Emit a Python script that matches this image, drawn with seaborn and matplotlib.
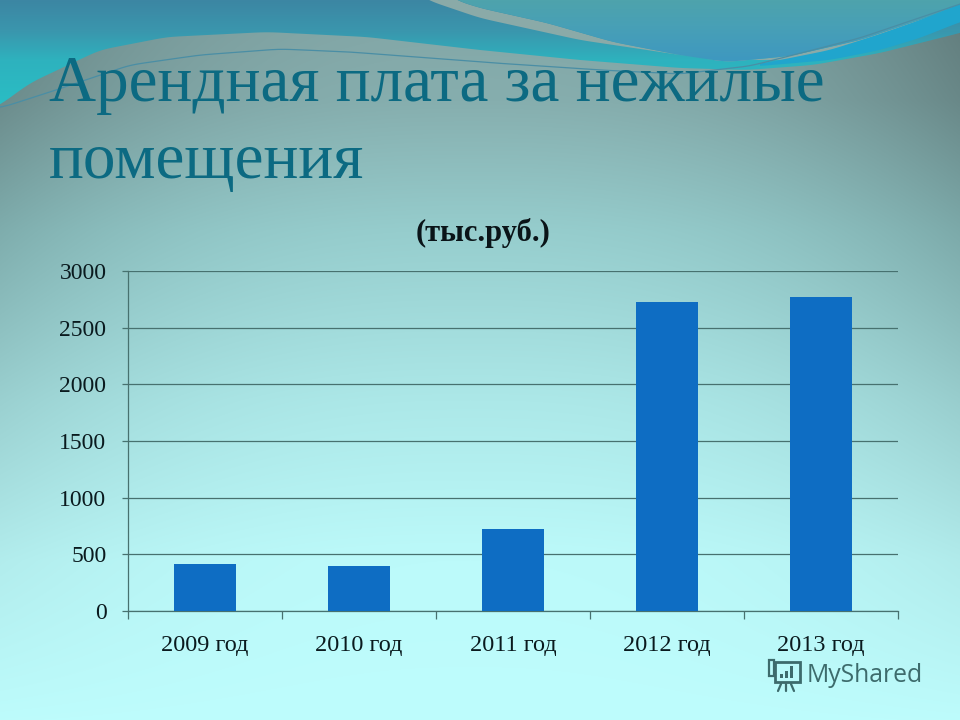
import numpy as np
import pandas as pd
import matplotlib
matplotlib.use('Agg')
import matplotlib.pyplot as plt
from matplotlib.patches import Rectangle, Polygon
import seaborn as sns

years = ['2009 год', '2010 год', '2011 год', '2012 год', '2013 год']
rent = [415, 397, 723, 2726, 2770]
y_ticks = [0, 500, 1000, 1500, 2000, 2500, 3000]

W, H = 960, 720

sns.set_theme(style='white')
plt.rcParams['font.family'] = ['Liberation Serif', 'DejaVu Serif']

fig = plt.figure(figsize=(9.6, 7.2), dpi=100)

bg = fig.add_axes([0, 0, 1, 1], zorder=0)
bg.set_xlim(0, W)
bg.set_ylim(H, 0)
bg.axis('off')

yy, xx = np.mgrid[0:H, 0:W]


def vgrad(stops_y, stops_rgb):
    c = np.array(stops_rgb) / 255
    return np.dstack([np.interp(yy, stops_y, c[:, i]) for i in range(3)])


# background: vertical gradient, darker towards the upper corners
img = vgrad([0, 100, 230, 400, 560, 720],
            [[130, 165, 165], [134, 174, 174], [150, 205, 205],
             [172, 232, 232], [188, 250, 250], [190, 253, 253]])
side = np.abs(xx - 470) / 490
fade = 1 - 0.24 * side ** 2.5 * np.clip(1.05 - yy / 700, 0, 1)
img = np.clip(img * fade[..., None], 0, 1)
bg.imshow(img, extent=[0, W, H, 0], aspect='auto', zorder=0)


def curve(px, py):
    # smooth a rough wave outline
    x = np.arange(-60, W + 61)
    y = np.interp(x, px, py)
    k = np.hanning(41)
    k = k / k.sum()
    y = np.convolve(np.pad(y, 20, mode='edge'), k, mode='valid')
    return x, y


def clipped_fill(x, upper, lower, grad, z):
    # gradient image cut to the area between two curves
    im = bg.imshow(grad, extent=[0, W, H, 0], aspect='auto', zorder=z)
    verts = np.r_[np.c_[x, upper], np.c_[x[::-1], lower[::-1]]]
    im.set_clip_path(Polygon(verts, closed=True, transform=bg.transData))


# teal sweep along the top
x, edge = curve([-60, 0, 30, 100, 167, 267, 367, 480, 580, 680, 747, 813, 880, 960, 1020],
                [135, 105, 83, 50, 37, 32, 37, 50, 60, 68, 70, 65, 53, 33, 15])
teal = vgrad([0, 30, 60, 100], [[60, 134, 163], [58, 150, 173], [46, 178, 190], [42, 188, 196]])
clipped_fill(x, np.full_like(edge, -5.0), edge, teal, 1)

# grey strip and the blue lens above it
x, strip_low = curve([400, 427, 480, 580, 647, 713, 790, 860, 960, 1020],
                     [-20, 0, 18, 40, 50, 60, 60, 44, 10, -15])
x, strip_up = curve([430, 455, 480, 547, 613, 680, 727, 790, 860, 960, 1020],
                    [-20, 0, 8, 23, 42, 55, 62, 56, 40, 6, -15])
clipped_fill(x, strip_up, strip_low, np.full((H, W, 3), np.array([138, 170, 168]) / 255), 2)
lens = vgrad([0, 25, 60], [[78, 163, 172], [72, 160, 182], [62, 152, 192]])
clipped_fill(x, np.full_like(strip_up, -5.0), strip_up, lens, 3)

# brighter blue streak on the right
x, streak_up = curve([760, 830, 880, 920, 960, 1020], [64, 50, 34, 20, 4, -15])
x, streak_low = curve([760, 830, 880, 920, 960, 1020], [66, 60, 50, 38, 22, 5])
mask = (x >= 760)
clipped_fill(x[mask], streak_up[mask], streak_low[mask],
             np.full((H, W, 3), np.array([32, 165, 205]) / 255), 4)

# thin lines
x, thin = curve([0, 50, 130, 200, 280, 350, 480, 600, 680, 750, 860, 960, 1020],
                [108, 92, 65, 55, 49, 52, 62, 70, 74, 66, 38, 4, -15])
bg.plot(x, thin, color='#4a8ea5', lw=0.9, zorder=6)

# chart
ax = fig.add_axes([128 / W, 1 - 611 / H, 770 / W, 340 / H], zorder=1)
ax.patch.set_alpha(0)
df = pd.DataFrame({'year': years, 'rent': rent})
sns.barplot(data=df, x='year', y='rent', color='#0e6dc3', saturation=1,
            width=0.4, linewidth=0, ax=ax, zorder=3)
ax.set_xlim(-0.5, len(years) - 0.5)
ax.set_ylim(0, 3000)
ax.set_yticks(y_ticks)
ax.set_xlabel('')
ax.set_ylabel('')

line_col = '#47716f'
ax.grid(axis='y', color=line_col, lw=0.9)
ax.set_axisbelow(True)
for s in ['top', 'right']:
    ax.spines[s].set_visible(False)
for s in ['left', 'bottom']:
    ax.spines[s].set_color(line_col)
    ax.spines[s].set_linewidth(0.9)

ax.set_xticks(np.arange(len(years) + 1) - 0.5, minor=True)
ax.tick_params(axis='x', which='minor', bottom=True, length=6, width=0.9, color=line_col)
ax.tick_params(axis='x', which='major', bottom=False, pad=11.5, labelsize=17.5, labelcolor='#0a1a1e')
ax.tick_params(axis='y', left=True, length=4.5, width=0.9, color=line_col, pad=11,
               labelsize=17, labelcolor='#0a1a1e')

# titles
fig.text(49 / W, 1 - 101 / H, 'Арендная плата за нежилые', fontsize=47, color='#0c6a82',
         ha='left', va='baseline', zorder=5)
fig.text(49 / W, 1 - 178 / H, 'помещения', fontsize=47, color='#0c6a82',
         ha='left', va='baseline', zorder=5)
fig.text(483 / W, 1 - 241 / H, '(тыс.руб.)', fontsize=22, fontweight='bold', color='#0a1418',
         ha='center', va='baseline', zorder=5)

# watermark
mark = '#3d6b6c'
fig.text(807 / W, 1 - 675 / H, 'MyShared', family='Open Sans', fontsize=17.8, color=mark,
         ha='left', va='center', zorder=5)
bg.add_patch(Rectangle((775, 662), 25, 20, fill=False, ec=mark, lw=2, zorder=7))
bg.add_patch(Rectangle((769, 660), 5, 16, fill=False, ec=mark, lw=1.6, zorder=7))
for bx, bh in [(780, 4), (785, 7), (790, 12)]:
    bg.add_patch(Rectangle((bx, 678 - bh), 3, bh, color=mark, lw=0, zorder=7))
for x0, x1 in [(781, 778), (786, 786), (791, 794)]:
    bg.plot([x0, x1], [684, 691], color=mark, lw=1.6, zorder=7)

fig.savefig('out.png', dpi=100)
plt.close(fig)
